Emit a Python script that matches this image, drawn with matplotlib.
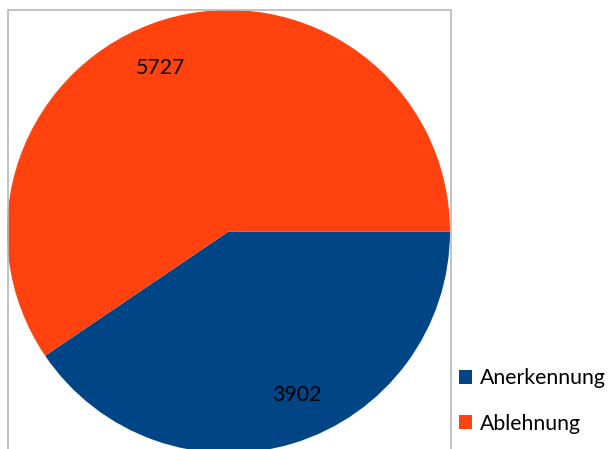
import numpy as np
import matplotlib
matplotlib.use("Agg")
import matplotlib.pyplot as plt
from matplotlib.patches import Patch, Rectangle

categories = ["Anerkennung", "Ablehnung"]
values = [3902, 5727]
colors = ["#004586", "#ff420e"]

W, H = 609, 449
fig = plt.figure(figsize=(W / 100, H / 100), dpi=100)
plt.rcParams["font.family"] = ["Lato", "DejaVu Sans"]
FS = 15.3

# plot-area frame
frame = Rectangle((7.5 / W, -0.05), (451 - 7.5) / W, 1.05 - 9.5 / H,
                  transform=fig.transFigure, fill=False,
                  edgecolor="#b8b8b8", linewidth=1.2, clip_on=False)
fig.add_artist(frame)

# pie circle spans x 7..450 px, y 10..453 px
R = 221.5
cx, cy = 228.5, 231.5
ax = fig.add_axes([(cx - R) / W, (H - cy - R) / H, 2 * R / W, 2 * R / H])
ax.set_xlim(-1, 1)
ax.set_ylim(-1, 1)
ax.axis("off")

wedges, _, autotexts = ax.pie(
    values, colors=colors, startangle=0, counterclock=False,
    autopct=lambda p: f"{p * sum(values) / 100:.0f}", pctdistance=0.8,
    radius=1, wedgeprops=dict(linewidth=0),
    textprops=dict(fontsize=FS, color="black"))
ax.set_xlim(-1, 1)
ax.set_ylim(-1, 1)

# nudge value labels slightly counter-clockwise around the centre
shift = np.deg2rad(5.5)
for w, t in zip(wedges, autotexts):
    mid = np.deg2rad((w.theta1 + w.theta2) / 2)
    t.set_position((0.8 * np.cos(mid + shift), 0.8 * np.sin(mid + shift)))

handles = [Patch(facecolor=c, edgecolor="none") for c in colors]
fig.legend(handles, categories, loc="upper left",
           bbox_to_anchor=(455 / W, 1 - 364 / H), frameon=False,
           fontsize=FS, handlelength=0.62, handleheight=0.62,
           handletextpad=0.35, labelspacing=1.2, borderpad=0.2,
           borderaxespad=0)

fig.savefig("out.png", dpi=100)
